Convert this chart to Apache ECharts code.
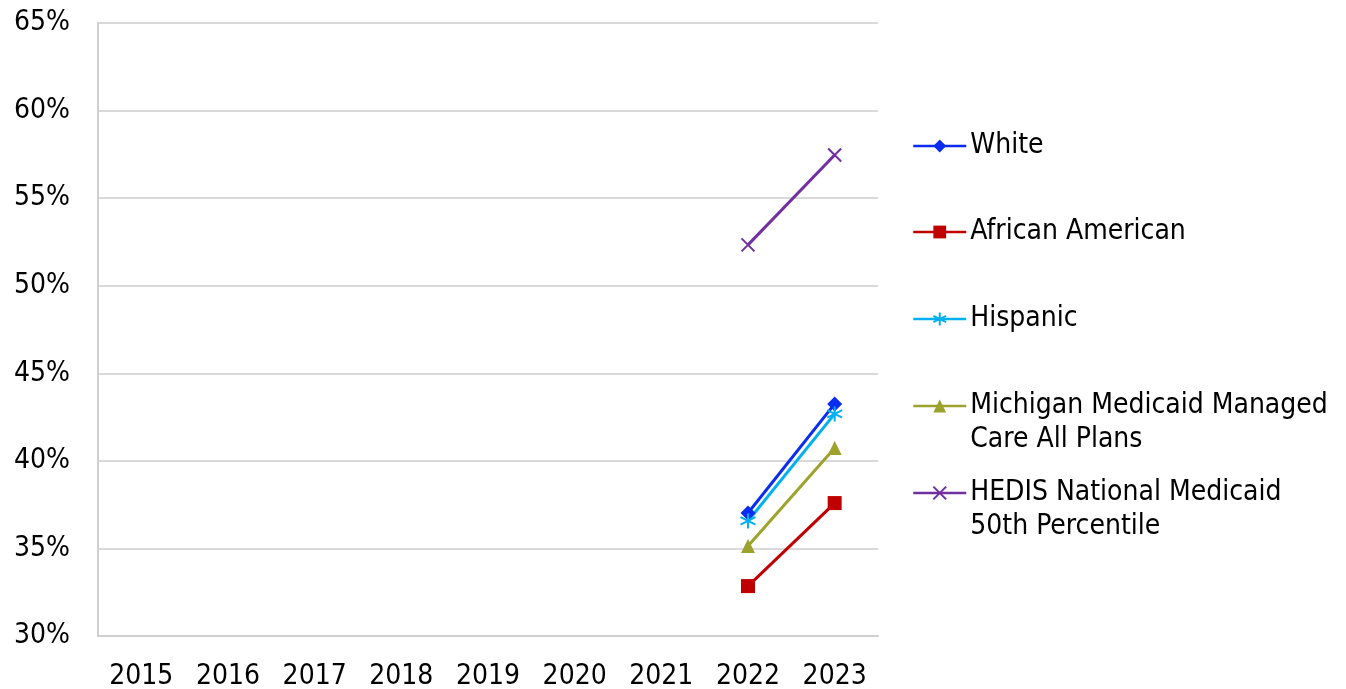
<!DOCTYPE html>
<html>
<head>
<meta charset="utf-8">
<script src="https://cdn.jsdelivr.net/npm/echarts@6/dist/echarts.min.js"></script>
<style>
  html, body { margin: 0; padding: 0; background: #fff; }
  #chart { width: 1346px; height: 689px; }
</style>
</head>
<body>
<div id="chart"></div>
<script>
// Years on the category axis
const years = ['2015', '2016', '2017', '2018', '2019', '2020', '2021', '2022', '2023'];

// Rates (%) by year; null where no value was reported
const white            = [null, null, null, null, null, null, null, 37.02, 43.25];
const africanAmerican  = [null, null, null, null, null, null, null, 32.85, 37.59];
const hispanic         = [null, null, null, null, null, null, null, 36.57, 42.68];
const michiganAllPlans = [null, null, null, null, null, null, null, 35.14, 40.73];
const hedisNational    = [null, null, null, null, null, null, null, 52.33, 57.46];

// Y-axis range and step (%)
const yMin = 30;
const yMax = 65;
const yStep = 5;

const FONT = '"DejaVu Sans Condensed", "DejaVu Sans", sans-serif';
const FONT_SIZE = 28;

// Marker shapes
const ASTERISK = 'path://M0,-1L0,1M-0.87,-0.5L0.87,0.5M-0.87,0.5L0.87,-0.5';
const CROSS = 'path://M-1,-1L1,1M-1,1L1,-1';

const seriesDefs = [
  { name: 'White', data: white, color: '#0a2cf0', symbol: 'diamond', size: 15, legendTop: 146,
    label: 'White' },
  { name: 'African American', data: africanAmerican, color: '#c00000', symbol: 'rect', size: 14, legendTop: 232,
    label: 'African American' },
  { name: 'Hispanic', data: hispanic, color: '#00b0f0', symbol: ASTERISK, size: 15, legendTop: 319, stroke: true,
    label: 'Hispanic' },
  { name: 'Michigan Medicaid Managed Care All Plans', data: michiganAllPlans, color: '#9ca22c', symbol: 'triangle', size: 14, legendTop: 406,
    label: '\nMichigan Medicaid Managed\nCare All Plans' },
  { name: 'HEDIS National Medicaid 50th Percentile', data: hedisNational, color: '#7030a0', symbol: CROSS, size: 13, legendTop: 493, stroke: true,
    label: '\nHEDIS National Medicaid\n50th Percentile' }
];

const series = seriesDefs.map(d => ({
  name: d.name,
  type: 'line',
  data: d.data,
  symbol: d.symbol,
  symbolSize: d.size,
  showSymbol: true,
  connectNulls: false,
  lineStyle: { color: d.color, width: 3 },
  itemStyle: d.stroke
    ? { color: d.color, borderColor: d.color, borderWidth: 2 }
    : { color: d.color, borderWidth: 0 },
  emphasis: { disabled: true },
  animation: false
}));

// One legend entry per series, each placed on its own row
const legends = seriesDefs.map(d => {
  const lines = d.label.split('\n').length;
  return {
    data: [d.name],
    orient: 'vertical',
    left: 912,
    top: d.legendTop - (lines * 34) / 2,
    itemWidth: 53,
    itemHeight: 16,
    itemGap: 0,
    padding: 0,
    selectedMode: false,
    lineStyle: { width: 2.5 },
    formatter: () => d.label,
    textStyle: {
      fontFamily: FONT,
      fontSize: FONT_SIZE,
      color: '#000',
      lineHeight: 34,
      padding: [0, 0, 0, -1]
    }
  };
});

const chart = echarts.init(document.getElementById('chart'), null, { renderer: 'canvas' });
chart.setOption({
  animation: false,
  backgroundColor: '#fff',
  grid: { left: 98, right: 468, top: 23, bottom: 53, containLabel: false, outerBoundsMode: 'none' },
  legend: legends,
  xAxis: {
    type: 'category',
    data: years,
    boundaryGap: true,
    axisLine: { show: true, lineStyle: { color: '#d0d0d0', width: 2 } },
    axisTick: { show: false },
    splitLine: { show: false },
    axisLabel: { color: '#000', fontFamily: FONT, fontSize: FONT_SIZE, margin: 27, interval: 0 }
  },
  yAxis: {
    type: 'value',
    min: yMin,
    max: yMax,
    interval: yStep,
    axisLine: { show: true, lineStyle: { color: '#d0d0d0', width: 2 } },
    axisTick: { show: false },
    splitLine: { show: true, lineStyle: { color: '#d9d9d9', width: 2 } },
    axisLabel: { color: '#000', fontFamily: FONT, fontSize: FONT_SIZE, margin: 28, formatter: '{value}%' }
  },
  series: series
});
</script>
</body>
</html>
